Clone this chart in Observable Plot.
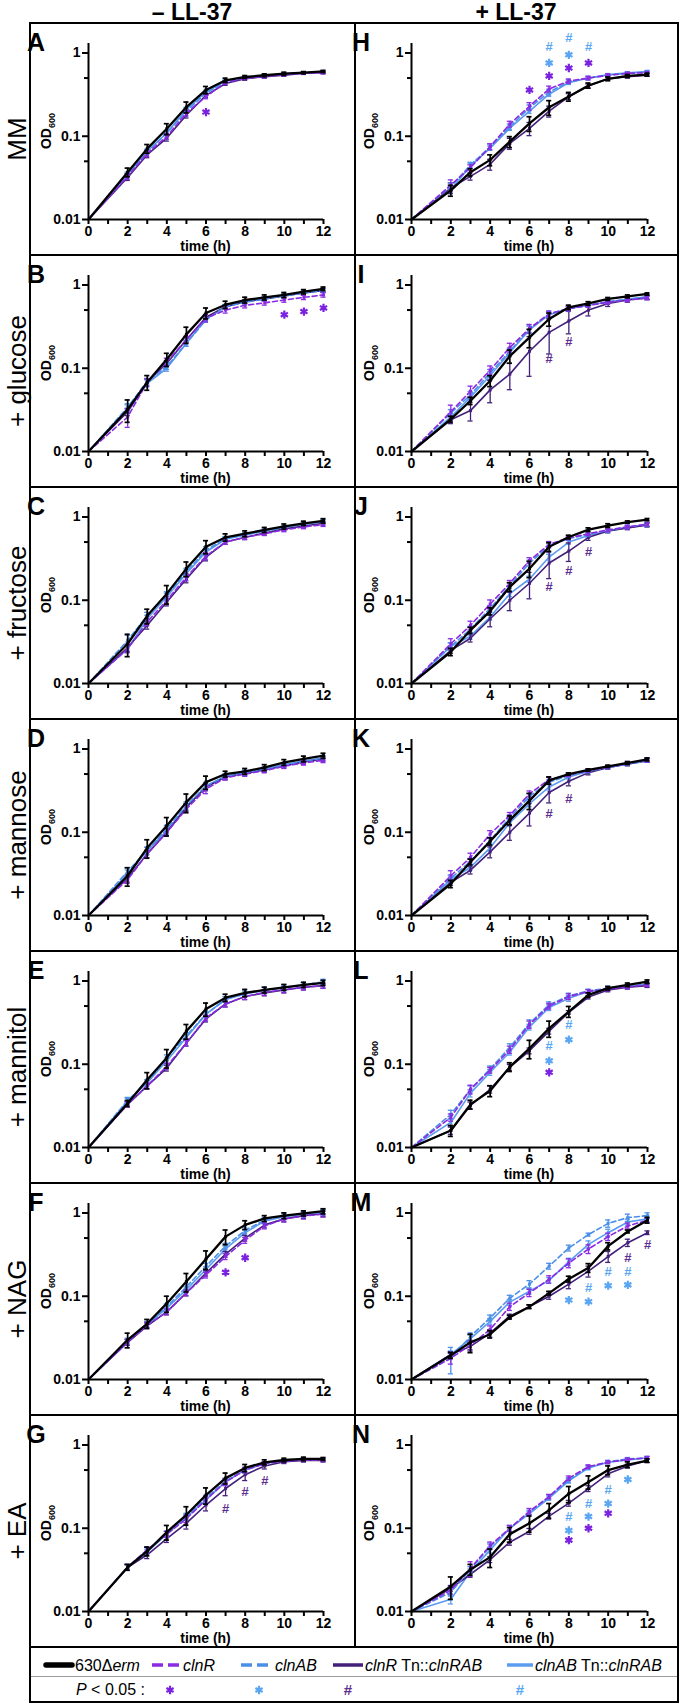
<!DOCTYPE html>
<html><head><meta charset="utf-8">
<script src="https://cdn.jsdelivr.net/npm/d3@7"></script>
<script src="https://cdn.jsdelivr.net/npm/@observablehq/plot@0.6"></script>
<style>
html,body{margin:0;padding:0;background:#fff;}
#fig{position:relative;width:681px;height:1704px;overflow:hidden;font-family:"Liberation Sans",Arial,sans-serif;color:#000;}
.pn{position:absolute;z-index:1;}
.pn svg{display:block;}
.ln{position:absolute;background:#000;z-index:3;}
.rowlab{position:absolute;left:17px;transform:translate(-50%,-50%) rotate(-90deg);white-space:nowrap;font-size:26px;line-height:1;}
.colhead{position:absolute;top:1px;transform:translateX(-50%);font-weight:bold;font-size:23px;white-space:nowrap;line-height:1;}
</style></head><body><div id="fig"></div>
<script>
// ---------- data ----------
const times = [2,3,4,5,6,7,8,9,10,11,12];
const startTime = 0, startOD = 0.01;
const strains = ["630Δerm","clnR","clnAB","clnR Tn::clnRAB","clnAB Tn::clnRAB"];
const rowLabels = ["MM","+ glucose","+ fructose","+ mannose","+ mannitol","+ NAG","+ EA"];
const colHeaders = ["– LL-37","+ LL-37"];
const yMajor = [0.01,0.1,1], yMinor = [0.05,0.5];
const xMajor = [0,2,4,6,8,10,12], xMinor = [1,3,5,7,9,11];
const yDomain = [0.01,1.3], xDomain = [0,12];

// mean OD600, series order = strains, values at times 2..12
const A = [[0.037,0.071,0.123,0.224,0.36,0.47,0.515,0.54,0.565,0.58,0.6],[0.033,0.062,0.1,0.19,0.3,0.44,0.5,0.52,0.55,0.57,0.58],[0.034,0.065,0.11,0.2,0.33,0.45,0.5,0.53,0.56,0.58,0.59],[0.032,0.06,0.095,0.18,0.31,0.43,0.49,0.52,0.54,0.57,0.58],[0.035,0.066,0.11,0.21,0.34,0.46,0.51,0.53,0.56,0.58,0.59]];
const B = [[0.032,0.068,0.128,0.255,0.46,0.58,0.66,0.71,0.76,0.83,0.9],[0.026,0.068,0.12,0.22,0.4,0.5,0.57,0.61,0.66,0.71,0.76],[0.034,0.07,0.105,0.2,0.38,0.55,0.62,0.68,0.74,0.8,0.86],[0.03,0.068,0.115,0.22,0.41,0.55,0.63,0.68,0.74,0.8,0.86],[0.033,0.066,0.1,0.2,0.39,0.55,0.63,0.69,0.75,0.81,0.87]];
const C = [[0.03,0.065,0.12,0.24,0.44,0.57,0.63,0.7,0.77,0.84,0.9],[0.026,0.055,0.1,0.19,0.34,0.5,0.57,0.63,0.7,0.76,0.81],[0.033,0.065,0.115,0.22,0.4,0.55,0.61,0.68,0.75,0.82,0.88],[0.027,0.05,0.095,0.18,0.33,0.5,0.57,0.64,0.72,0.78,0.84],[0.026,0.06,0.11,0.21,0.38,0.54,0.61,0.68,0.75,0.82,0.88]];
const D = [[0.03,0.065,0.12,0.23,0.4,0.5,0.54,0.6,0.69,0.76,0.83],[0.027,0.055,0.1,0.19,0.33,0.45,0.5,0.55,0.62,0.68,0.73],[0.034,0.06,0.11,0.21,0.36,0.47,0.52,0.57,0.64,0.71,0.78],[0.028,0.055,0.1,0.2,0.35,0.46,0.51,0.56,0.63,0.7,0.76],[0.032,0.06,0.105,0.2,0.36,0.47,0.52,0.58,0.65,0.72,0.78]];
const E = [[0.034,0.065,0.12,0.25,0.46,0.63,0.72,0.78,0.84,0.9,0.95],[0.033,0.055,0.095,0.18,0.36,0.53,0.65,0.73,0.79,0.84,0.88],[0.037,0.06,0.12,0.22,0.4,0.6,0.72,0.78,0.84,0.9,0.98],[0.033,0.055,0.09,0.18,0.35,0.53,0.65,0.72,0.78,0.84,0.88],[0.036,0.06,0.11,0.21,0.4,0.6,0.7,0.77,0.83,0.89,0.96]];
const F = [[0.03,0.047,0.082,0.15,0.28,0.52,0.72,0.86,0.93,0.99,1.05],[0.028,0.045,0.065,0.11,0.18,0.3,0.47,0.7,0.85,0.92,0.97],[0.029,0.046,0.075,0.13,0.23,0.4,0.62,0.82,0.92,0.98,1.03],[0.028,0.044,0.065,0.11,0.19,0.32,0.5,0.72,0.85,0.93,0.98],[0.028,0.046,0.072,0.12,0.21,0.37,0.58,0.8,0.9,0.97,1.02]];
const G = [[0.034,0.053,0.09,0.145,0.25,0.4,0.53,0.62,0.66,0.68,0.68],[0.034,0.055,0.085,0.13,0.22,0.36,0.5,0.6,0.64,0.66,0.66],[0.034,0.055,0.085,0.14,0.23,0.37,0.5,0.6,0.65,0.67,0.67],[0.034,0.048,0.075,0.115,0.19,0.3,0.44,0.56,0.63,0.65,0.65],[0.034,0.052,0.085,0.135,0.22,0.36,0.5,0.6,0.65,0.67,0.67]];
const H = [[0.0224,0.037,0.052,0.086,0.143,0.223,0.3,0.407,0.49,0.53,0.55],[0.026,0.042,0.075,0.14,0.23,0.37,0.46,0.5,0.54,0.57,0.58],[0.025,0.045,0.075,0.13,0.22,0.34,0.45,0.5,0.54,0.57,0.59],[0.024,0.033,0.046,0.082,0.124,0.2,0.3,0.4,0.49,0.52,0.54],[0.023,0.044,0.072,0.125,0.2,0.32,0.44,0.5,0.55,0.58,0.6]];
const I = [[0.0245,0.0407,0.0708,0.14,0.235,0.39,0.54,0.6,0.68,0.73,0.78],[0.03,0.053,0.095,0.178,0.3,0.45,0.52,0.57,0.62,0.66,0.7],[0.029,0.048,0.088,0.16,0.3,0.45,0.52,0.57,0.63,0.67,0.72],[0.024,0.031,0.055,0.085,0.16,0.27,0.37,0.5,0.6,0.66,0.7],[0.026,0.045,0.082,0.155,0.29,0.44,0.52,0.57,0.63,0.68,0.72]];
const J = [[0.024,0.0437,0.074,0.145,0.24,0.44,0.575,0.705,0.79,0.87,0.93],[0.03,0.05,0.09,0.16,0.3,0.47,0.56,0.63,0.7,0.76,0.82],[0.028,0.045,0.08,0.15,0.28,0.45,0.55,0.62,0.69,0.76,0.82],[0.025,0.035,0.06,0.1,0.16,0.28,0.39,0.57,0.68,0.74,0.8],[0.028,0.037,0.063,0.12,0.18,0.33,0.5,0.6,0.68,0.75,0.8]];
const K = [[0.024,0.044,0.078,0.14,0.24,0.42,0.5,0.56,0.62,0.68,0.75],[0.03,0.05,0.095,0.16,0.29,0.43,0.49,0.55,0.61,0.67,0.74],[0.028,0.045,0.08,0.15,0.27,0.4,0.48,0.54,0.6,0.66,0.72],[0.025,0.035,0.058,0.1,0.17,0.3,0.41,0.52,0.6,0.66,0.73],[0.027,0.038,0.065,0.13,0.22,0.35,0.46,0.54,0.6,0.66,0.72]];
const L = [[0.016,0.033,0.048,0.093,0.155,0.27,0.43,0.68,0.82,0.9,0.98],[0.023,0.05,0.085,0.15,0.3,0.5,0.65,0.75,0.8,0.85,0.9],[0.025,0.05,0.088,0.16,0.31,0.52,0.66,0.76,0.82,0.86,0.92],[0.016,0.032,0.05,0.092,0.145,0.25,0.42,0.64,0.78,0.84,0.88],[0.02,0.045,0.08,0.14,0.28,0.48,0.62,0.75,0.8,0.86,0.92]];
const M = [[0.0195,0.028,0.035,0.056,0.075,0.109,0.161,0.22,0.4,0.6,0.82],[0.018,0.026,0.04,0.075,0.11,0.16,0.25,0.37,0.52,0.7,0.82],[0.018,0.033,0.055,0.095,0.14,0.23,0.38,0.55,0.75,0.88,0.93],[0.02,0.025,0.036,0.058,0.075,0.1,0.14,0.2,0.3,0.44,0.58],[0.02,0.031,0.05,0.085,0.115,0.155,0.26,0.42,0.58,0.78,0.85]];
const N = [[0.02,0.032,0.045,0.085,0.115,0.165,0.26,0.36,0.5,0.58,0.65],[0.018,0.033,0.062,0.1,0.16,0.24,0.4,0.55,0.62,0.67,0.7],[0.017,0.032,0.06,0.1,0.155,0.24,0.38,0.54,0.63,0.68,0.7],[0.019,0.028,0.042,0.068,0.092,0.14,0.2,0.3,0.45,0.56,0.65],[0.014,0.03,0.055,0.1,0.15,0.23,0.37,0.53,0.62,0.66,0.7]];

// SD as percent of mean
const A_sd = [[12,12,15,15,10,6,4,4,4,3,3],[8,8,8,8,6,5,4,4,3,3,3],[6,6,6,6,5,4,3,3,3,3,3],[8,8,8,8,6,5,4,4,3,3,3],[6,6,6,6,5,4,3,3,3,3,3]];
const B_sd = [[30,20,18,22,15,10,8,7,7,6,5],[25,10,10,10,10,8,7,6,6,6,6],[10,8,8,8,6,5,5,5,5,5,5],[10,10,8,8,8,6,5,5,5,5,5],[10,10,8,8,6,5,5,5,5,5,5]];
const C_sd = [[30,20,25,20,18,10,8,7,7,6,6],[10,10,10,10,10,6,6,5,5,5,5],[15,10,10,10,10,6,6,5,5,5,5],[10,10,10,10,10,6,6,5,5,5,5],[10,10,10,10,10,6,6,5,5,5,5]];
const D_sd = [[25,25,25,25,18,8,8,8,8,8,7],[10,10,10,10,12,6,6,6,6,6,6],[10,10,10,10,10,7,7,6,6,6,6],[10,10,10,10,10,7,7,6,6,6,6],[10,10,10,10,10,7,7,6,6,6,6]];
const E_sd = [[8,22,25,20,18,10,10,8,8,7,7],[8,8,8,8,8,8,8,8,8,7,7],[8,8,8,8,8,8,8,8,8,7,7],[8,8,8,8,8,8,8,8,8,7,7],[8,8,8,8,8,8,8,8,8,7,7]];
const F_sd = [[20,12,22,25,25,20,12,8,8,7,7],[8,8,8,8,8,8,8,8,8,8,8],[8,8,8,8,8,8,8,8,8,8,8],[8,8,8,8,8,8,8,8,8,8,8],[8,8,8,8,8,8,8,8,8,8,8]];
const G_sd = [[8,12,20,25,22,15,10,7,5,5,4],[8,8,8,10,10,10,8,5,4,4,4],[8,8,8,8,8,8,6,5,4,4,4],[8,10,10,15,15,18,15,8,5,4,4],[8,8,8,8,8,8,6,5,4,4,4]];
const H_sd = [[15,10,15,15,20,20,12,7,5,4,4],[15,8,8,8,10,8,6,5,4,3,3],[10,8,8,8,8,8,6,5,4,3,3],[15,10,15,15,18,15,8,6,5,4,3],[8,6,6,6,6,6,5,4,3,3,3]];
const I_sd = [[8,10,15,18,25,18,6,5,4,4,3],[20,15,12,12,12,8,6,5,5,5,5],[10,10,10,10,10,8,6,5,5,5,5],[10,25,30,35,50,45,30,15,8,6,5],[10,10,10,10,10,8,6,5,5,5,5]];
const J_sd = [[10,8,10,12,22,12,5,5,5,3,3],[15,12,12,8,8,8,5,5,5,5,5],[10,8,8,8,8,6,5,5,5,5,5],[8,10,20,25,35,35,25,8,5,5,5],[10,8,8,8,8,8,6,5,5,5,5]];
const K_sd = [[10,8,10,12,22,10,3,3,3,4,4],[15,12,10,8,8,6,5,4,4,4,6],[10,8,8,8,8,6,5,4,4,4,4],[8,10,15,20,30,25,12,6,5,5,5],[10,8,8,8,8,8,5,4,4,4,4]];
const L_sd = [[15,12,15,12,25,22,15,6,5,5,5],[10,12,8,10,10,8,8,5,5,5,5],[12,10,8,10,10,8,8,5,5,5,5],[10,10,10,8,8,8,5,5,5,5,5],[10,10,8,8,8,8,8,5,5,5,5]];
const M_sd = [[8,25,10,5,5,5,8,12,10,4,8],[15,12,10,10,10,10,12,12,10,8,6],[35,10,8,8,10,8,8,4,10,10,8],[8,12,10,5,5,8,12,15,15,10,5],[10,10,8,8,8,8,10,10,10,8,8]];
const N_sd = [[30,15,25,20,22,20,22,18,12,8,5],[10,20,10,8,8,6,6,5,4,4,4],[10,8,8,8,6,6,6,5,4,4,4],[8,8,8,8,8,8,8,8,8,5,5],[12,8,8,8,6,6,6,5,4,4,4]];

// significance marks: [time, OD position, type]
const A_sig = [[6,0.195,"R*"]];
const B_sig = [[10,0.44,"R*"],[11,0.48,"R*"],[12,0.53,"R*"]];
const F_sig = [[7,0.194,"R*"],[8,0.29,"R*"]];
const G_sig = [[7,0.173,"R#"],[8,0.275,"R#"],[9,0.368,"R#"]];
const H_sig = [[6,0.36,"R*"],[7,0.53,"R*"],[7,0.76,"AB*"],[7,1.2,"AB#"],[8,0.66,"R*"],[8,0.95,"AB*"],[8,1.5,"AB#"],[9,0.76,"R*"],[9,1.2,"AB#"]];
const I_sig = [[7,0.129,"R#"],[8,0.205,"R#"]];
const J_sig = [[7,0.145,"R#"],[8,0.223,"R#"],[9,0.38,"R#"]];
const K_sig = [[7,0.167,"R#"],[8,0.253,"R#"]];
const L_sig = [[7,0.08,"R*"],[7,0.11,"AB*"],[7,0.167,"AB#"],[8,0.197,"AB*"],[8,0.295,"AB#"]];
const M_sig = [[8,0.09,"AB*"],[9,0.086,"AB*"],[9,0.127,"AB#"],[10,0.134,"AB*"],[10,0.194,"AB#"],[11,0.137,"AB*"],[11,0.197,"AB#"],[11,0.29,"R#"],[12,0.42,"R#"]];
const N_sig = [[8,0.072,"R*"],[8,0.094,"AB*"],[8,0.136,"AB#"],[9,0.1,"R*"],[9,0.138,"AB*"],[9,0.198,"AB#"],[10,0.151,"R*"],[10,0.198,"AB*"],[10,0.286,"AB#"],[11,0.385,"AB*"]];

// ---------- styles ----------
const colors = ["#000000","#8a2be2","#4a8fe8","#43207a","#5b9cf0"];
const dashes = [null,"5,3","5,3",null,null];
const widths = [2.3,1.6,1.6,1.6,1.6];
const sigColor = {"R*":"#7b22e0","AB*":"#5aa6f2","R#":"#5d2f90","AB#":"#5aa6f2"};
const FONT = "'Liberation Sans', Arial, sans-serif";
const AST_R = 3.9, HASH_SIZE = 13;

const panels = [
  {id:"A",m:A,e:A_sd,s:A_sig,col:0,row:0},{id:"B",m:B,e:B_sd,s:B_sig,col:0,row:1},
  {id:"C",m:C,e:C_sd,s:[],col:0,row:2},{id:"D",m:D,e:D_sd,s:[],col:0,row:3},
  {id:"E",m:E,e:E_sd,s:[],col:0,row:4},{id:"F",m:F,e:F_sd,s:F_sig,col:0,row:5},
  {id:"G",m:G,e:G_sd,s:G_sig,col:0,row:6},
  {id:"H",m:H,e:H_sd,s:H_sig,col:1,row:0},{id:"I",m:I,e:I_sd,s:I_sig,col:1,row:1},
  {id:"J",m:J,e:J_sd,s:J_sig,col:1,row:2},{id:"K",m:K,e:K_sd,s:K_sig,col:1,row:3},
  {id:"L",m:L,e:L_sd,s:L_sig,col:1,row:4},{id:"M",m:M,e:M_sd,s:M_sig,col:1,row:5},
  {id:"N",m:N,e:N_sd,s:N_sig,col:1,row:6}
];

const fig = document.getElementById("fig");
const TOP = 23, ROWH = 232;
const colX = [30,355], colW = [325,323], colML = [58,56], colMR = [32,31];

function makePanel(p) {
  const w = colW[p.col], h = ROWH, ml = colML[p.col], mr = colMR[p.col], mt = 20, mb = 36;
  const rows = [];
  p.m.forEach((ser,i) => {
    rows.push({i, t:startTime, v:startOD, sd:0});
    ser.forEach((v,j) => rows.push({i, t:times[j], v, sd: v*p.e[i][j]/100}));
  });
  const marks = [];
  for (const i of [4,3,2,1,0]) {
    const d = rows.filter(r => r.i === i);
    const eb = d.filter(r => r.t > 0);
    const sw = i === 0 ? 1.7 : 1.3;
    marks.push(Plot.ruleX(eb, {x:"t", y1:r=>r.v-r.sd, y2:r=>r.v+r.sd, stroke:colors[i], strokeWidth:sw}));
    marks.push(Plot.ruleY(eb, {y:r=>r.v+r.sd, x1:r=>r.t-0.13, x2:r=>r.t+0.13, stroke:colors[i], strokeWidth:sw}));
    marks.push(Plot.ruleY(eb, {y:r=>r.v-r.sd, x1:r=>r.t-0.13, x2:r=>r.t+0.13, stroke:colors[i], strokeWidth:sw}));
    const lo = {x:"t", y:"v", stroke:colors[i], strokeWidth:widths[i]};
    if (dashes[i]) lo.strokeDasharray = dashes[i];
    marks.push(Plot.line(d, lo));
    marks.push(Plot.dot(eb, {x:"t", y:"v", r:1.7, fill:colors[i], symbol:"square"}));
  }
  const stars = p.s.filter(s => s[2].endsWith("*"));
  const hashes = p.s.filter(s => s[2].endsWith("#"));
  marks.push(Plot.dot(stars, {x:s=>s[0], y:s=>s[1], symbol:"asterisk", r:AST_R, stroke:s=>sigColor[s[2]], strokeWidth:2.2}));
  marks.push(Plot.text(hashes, {x:s=>s[0], y:s=>s[1], text:()=>"#", fill:s=>sigColor[s[2]], fontSize:HASH_SIZE, fontWeight:"bold"}));
  marks.push(Plot.ruleX([0], {y1:yDomain[0], y2:yDomain[1], strokeWidth:2}));
  marks.push(Plot.ruleY([yDomain[0]], {x1:xDomain[0], x2:xDomain[1], strokeWidth:2}));
  marks.push(Plot.axisY({ticks:yMajor, tickSize:6, tickPadding:2, tickFormat:d=>String(d), strokeWidth:2, label:null, fontSize:14, fontWeight:"bold"}));
  marks.push(Plot.axisY({ticks:yMinor, tickSize:4, tickFormat:()=>"", strokeWidth:2, label:null}));
  marks.push(Plot.axisX({ticks:xMajor, tickSize:5, tickPadding:2, tickFormat:d=>String(d), strokeWidth:2, label:null, fontSize:14, fontWeight:"bold"}));
  marks.push(Plot.axisX({ticks:xMinor, tickSize:5, tickFormat:()=>"", strokeWidth:2, label:null}));

  const plot = Plot.plot({
    width:w, height:h, marginLeft:ml, marginRight:mr, marginTop:mt, marginBottom:mb,
    x:{domain:xDomain}, y:{type:"log", domain:yDomain}, color:{type:"identity"},
    style:{fontFamily:FONT, fontSize:"14px", fontWeight:"bold", background:"transparent", overflow:"visible", color:"#000"},
    marks
  });
  const svg = d3.select(plot);
  const cy = (mt + h - mb) / 2;
  const od = svg.append("text").attr("transform", `translate(${ml-37},${cy}) rotate(-90)`)
    .attr("text-anchor","middle").attr("font-size","14px").attr("font-weight","bold").attr("fill","#000");
  od.append("tspan").text("OD");
  od.append("tspan").attr("font-size","9px").attr("dy","4").text("600");
  svg.append("text").attr("x",(ml + w - mr)/2).attr("y",228).attr("text-anchor","middle")
    .attr("font-size","14px").attr("font-weight","bold").attr("fill","#000").text("time (h)");
  svg.append("text").attr("x",6).attr("y",28).attr("font-size","25px").attr("font-weight","bold")
    .attr("fill","#000").text(p.id);
  const div = document.createElement("div");
  div.className = "pn";
  div.style.left = colX[p.col] + "px";
  div.style.top = (TOP + ROWH*p.row) + "px";
  div.appendChild(plot);
  fig.appendChild(div);
}
panels.forEach(makePanel);

// headers and row labels
colHeaders.forEach((t,c) => {
  const d = document.createElement("div");
  d.className = "colhead"; d.textContent = t;
  d.style.left = (c === 0 ? 192 : 516) + "px";
  fig.appendChild(d);
});
rowLabels.forEach((t,r) => {
  const d = document.createElement("div");
  d.className = "rowlab"; d.textContent = t;
  d.style.top = (TOP + ROWH*r + ROWH/2) + "px";
  fig.appendChild(d);
});

// frame lines
function line(x, y, w, h, color) {
  const d = document.createElement("div");
  d.className = "ln";
  d.style.left = x+"px"; d.style.top = y+"px"; d.style.width = w+"px"; d.style.height = h+"px";
  if (color) d.style.background = color;
  fig.appendChild(d);
}
const LEGTOP = TOP + ROWH*7;
line(29, TOP-1, 650, 2);
for (let r = 1; r <= 7; r++) line(29, TOP + ROWH*r - 1, 650, 2);
line(29, 1701, 650, 2);
line(29, TOP-1, 2, 1703-TOP);
line(677, TOP-1, 2, 1703-TOP);
line(354, TOP-1, 2, LEGTOP-TOP+1);
line(31, 1676, 646, 1, "#9a9a9a");

// legend
const leg = d3.create("svg").attr("width",681).attr("height",57)
  .style("position","absolute").style("left","0px").style("top",LEGTOP+"px").style("z-index","2")
  .attr("font-family",FONT).attr("font-size","16px");
const ly = 18;
const legItems = [
  {i:0, x1:46, x2:72, tx:75, parts:[["630Δ",false],["erm",true]], w:5.5},
  {i:1, x1:152, x2:180, tx:183, parts:[["clnR",true]], w:3.5},
  {i:2, x1:241, x2:272, tx:275, parts:[["clnAB",true]], w:3.5},
  {i:3, x1:333, x2:363, tx:365, parts:[["clnR",true],[" Tn::",false],["clnRAB",true]], w:3.5},
  {i:4, x1:507, x2:533, tx:535, parts:[["clnAB",true],[" Tn::",false],["clnRAB",true]], w:3.5}
];
legItems.forEach(it => {
  const l = leg.append("line").attr("x1",it.x1).attr("x2",it.x2).attr("y1",ly).attr("y2",ly)
    .attr("stroke",colors[it.i]).attr("stroke-width",it.w).attr("stroke-linecap", it.i===0 ? "round" : "butt");
  if (dashes[it.i]) l.attr("stroke-dasharray","11,5");
  const t = leg.append("text").attr("x",it.tx).attr("y",ly+5.5);
  it.parts.forEach(([s,ital]) => t.append("tspan").attr("font-style", ital ? "italic" : "normal").text(s));
});
const ly2 = 42;
const pt = leg.append("text").attr("x",76).attr("y",ly2+5.5);
pt.append("tspan").attr("font-style","italic").text("P");
pt.append("tspan").text(" < 0.05 :");
const legSig = [[170,"R*"],[259,"AB*"],[348,"R#"],[520,"AB#"]];
const astPath = d3.symbol(d3.symbolAsterisk, Math.PI*AST_R*AST_R)();
legSig.forEach(([x,k]) => {
  if (k.endsWith("*")) {
    leg.append("path").attr("d", astPath).attr("transform",`translate(${x},${ly2+1})`)
      .attr("fill","none").attr("stroke",sigColor[k]).attr("stroke-width",2.2);
  } else {
    leg.append("text").attr("x",x).attr("y",ly2+5.5).attr("text-anchor","middle")
      .attr("font-weight","bold").attr("font-size","15px").attr("fill",sigColor[k]).text("#");
  }
});
fig.appendChild(leg.node());
</script></body></html>
